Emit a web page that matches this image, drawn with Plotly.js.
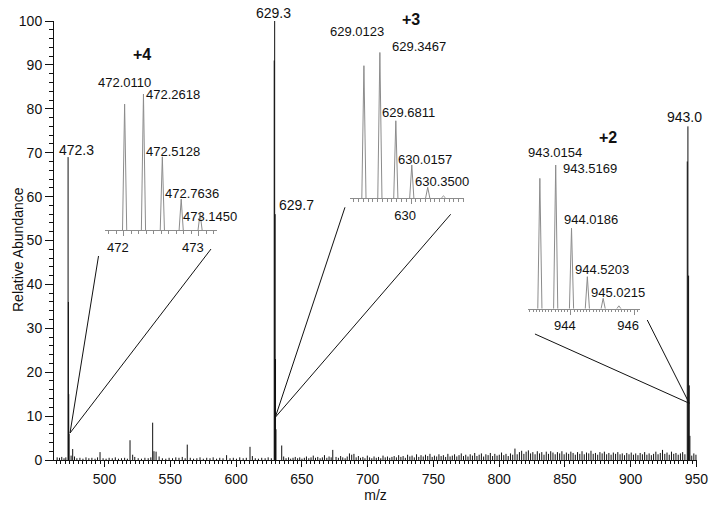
<!DOCTYPE html>
<html>
<head>
<meta charset="utf-8">
<script src="https://cdn.plot.ly/plotly-3.0.1.min.js"></script>
<style>
  html, body { margin: 0; padding: 0; background: #fff; }
  #chart { width: 720px; height: 510px; }
</style>
</head>
<body>
<div id="chart"></div>
<script>
// ESI mass spectrum, m/z 460–950, with zoomed isotope envelopes for the +4, +3, +2 ions

// ---- main spectrum: labelled ions and their isotopes, plus the small peaks
const mainMz  = [472.3, 472.55, 472.8, 473.05, 475.8, 519.4, 536.6, 537.6, 562.9, 610.6,
                 629.0, 629.35, 629.7, 630.0, 630.35, 634.7, 673.5,
                 943.0, 943.5, 944.0, 944.5, 945.0];
const mainInt = [69, 36, 15, 6, 2.5, 4.5, 8.5, 2.0, 3.5, 3.0,
                 91, 100, 56, 23, 7, 3.3, 2.3,
                 68, 76, 42, 17, 5.5];

// baseline chemical noise, [m/z, relative abundance]
const noise = [
  [464.0,0.6],[465.8,0.5],[467.5,0.7],[469.2,0.4],[470.6,0.6],[474.6,1.0],[477.2,0.8],[479.0,0.4],
  [481.3,0.5],[483.6,0.3],[485.9,0.6],[488.1,0.4],[490.4,0.5],[492.8,0.3],[494.7,0.6],[496.6,1.8],
  [498.9,0.4],[501.2,0.3],[503.5,0.5],[505.9,0.4],[508.2,0.6],[510.6,0.3],[512.9,0.4],[515.3,0.5],
  [517.4,0.3],[521.4,1.2],[523.0,0.7],[525.6,0.4],[528.1,0.3],[530.7,0.5],[533.2,0.4],[535.2,0.6],
  [539.2,1.9],[541.5,0.8],[544.0,0.4],[546.6,0.3],[549.1,0.5],[551.7,0.4],[554.2,0.6],[556.6,0.5],
  [559.1,0.7],[561.3,0.4],[565.2,0.5],[567.7,0.3],[570.2,0.4],[572.6,0.6],[575.1,0.3],[577.7,0.5],
  [580.2,0.4],[582.6,0.6],[585.2,0.3],[587.6,0.5],[590.1,0.4],[592.8,1.1],[595.4,0.4],[597.9,0.5],
  [600.3,0.3],[602.8,0.6],[605.4,0.4],[607.8,0.5],[612.4,0.9],[614.6,0.4],[617.0,0.3],[619.5,0.5],
  [622.1,0.4],[624.4,0.6],[626.8,0.4],
  [636.2,0.8],[638.0,0.4],[639.9,0.6],[641.5,0.3],[643.3,0.5],[645.0,0.7],[646.8,0.4],[648.4,0.6],
  [650.1,0.3],[651.9,0.5],[653.5,0.8],[655.3,0.4],[657.0,0.6],[658.7,1.0],[660.4,0.5],[662.1,0.7],
  [663.9,0.4],[665.6,0.6],[667.2,1.1],[669.0,0.5],[670.7,0.8],[672.3,0.6],[676.0,0.7],[677.8,0.5],
  [679.5,0.9],[681.1,0.6],[682.9,0.4],[684.5,0.8],[686.2,1.5],[687.9,1.2],[689.6,1.4],[691.3,0.6],
  [693.0,0.9],[694.6,0.5],[696.4,0.7],[698.0,0.4],[699.8,1.0],[701.5,0.6],[703.2,0.4],[704.9,0.8],
  [706.6,0.5],[708.3,0.7],[710.0,0.4],[711.7,1.0],[713.4,0.6],[715.1,0.8],[716.8,0.5],[718.5,0.7],
  [720.2,0.9],[721.9,0.6],[723.6,1.1],[725.3,0.7],[727.0,0.9],[728.7,0.5],[730.4,1.2],[732.1,0.8],
  [733.8,1.0],[735.5,0.6],[737.2,1.3],[738.9,0.7],[740.6,1.1],[742.3,0.8],[744.0,1.2],[745.7,0.9],
  [747.4,1.4],[749.1,0.7],[750.8,1.0],[752.5,0.8],[754.2,1.3],[755.9,0.9],[757.6,1.1],[759.3,0.7],
  [761.0,1.4],[762.7,0.8],[764.4,1.0],[766.1,1.3],[767.8,0.8],[769.5,1.1],[771.2,1.5],[772.9,0.9],
  [774.6,1.2],[776.3,0.8],[778.0,1.3],[779.7,1.0],[781.4,1.6],[783.1,0.9],[784.8,1.2],[786.5,1.5],
  [788.2,0.8],[789.9,1.3],[791.6,1.1],[793.3,1.6],[795.0,0.9],[796.7,1.4],[798.4,1.0],[800.1,1.2],
  [801.8,1.7],[803.5,1.1],[805.2,1.4],[806.9,0.9],[808.6,1.5],[810.3,1.2],[812.0,2.6],[813.7,1.3],
  [815.4,1.8],[817.1,2.1],[818.8,1.4],[820.5,1.9],[822.2,2.2],[823.9,1.5],[825.6,1.8],[827.3,1.3],
  [829.0,2.0],[830.7,1.5],[832.4,1.8],[834.1,1.2],[835.8,1.9],[837.5,1.4],[839.2,2.0],[840.9,1.7],
  [842.6,1.3],[844.3,1.8],[846.0,1.5],[847.7,2.0],[849.4,1.3],[851.1,1.7],[852.8,1.4],[854.5,1.9],
  [856.2,1.6],[857.9,1.2],[859.6,1.8],[861.3,1.4],[863.0,2.0],[864.7,1.3],[866.4,1.7],[868.1,1.5],
  [869.8,2.1],[871.5,1.4],[873.2,1.6],[874.9,1.2],[876.6,1.8],[878.3,1.5],[880.0,1.9],[881.7,1.3],
  [883.4,1.6],[885.1,1.2],[886.8,1.7],[888.5,1.4],[890.2,1.8],[891.9,1.3],[893.6,1.5],[895.3,1.1],
  [897.0,1.6],[898.7,1.3],[900.4,1.7],[902.1,1.2],[903.8,1.5],[905.5,1.1],[907.2,1.6],[908.9,1.3],
  [910.6,1.8],[912.3,1.2],[914.0,1.5],[915.7,1.1],[917.4,1.4],[919.1,1.9],[920.8,1.3],[922.5,1.6],
  [924.2,2.3],[925.9,1.4],[927.6,1.7],[929.3,1.2],[931.0,1.9],[932.7,1.4],[934.4,1.6],[936.1,1.2],
  [937.8,1.5],[939.5,1.8],[941.2,1.3],[946.4,1.0],[948.0,1.5],[949.6,1.2],
];

// labels on the main spectrum
const mainLabelText = ['472.3', '629.3', '629.7', '943.0'];
const mainLabelMz   = [472.3, 629.35, 629.7, 943.5];
const mainLabelInt  = [69, 100, 56, 76];

// zoom-in callout lines: from the peak foot up to the inset
const calloutFromMz  = [473.78, 473.78, 629.83, 629.83, 944.51, 944.51];
const calloutFromInt = [6.15, 6.15, 9.73, 9.73, 12.92, 12.92];
const calloutToMz    = [495.44, 580.95, 682.80, 763.15, 827.22, 912.59];
const calloutToInt   = [46.47, 48.06, 57.56, 55.97, 28.70, 31.89];

// isotope envelopes (inset intensities normalised to the tallest isotope)
const plus4Mz   = [472.011, 472.2618, 472.5128, 472.7636, 473.015];
const plus4Int  = [92.6, 100, 54, 23, 12.5];
const plus4Text = ['472.0110', '472.2618', '472.5128', '472.7636', '473.1450'];

const plus3Mz   = [629.0123, 629.3467, 629.6811, 630.0157, 630.35, 630.68];
const plus3Int  = [90.8, 100, 53, 22.6, 7.3, 1.4];
const plus3Text = ['629.0123', '629.3467', '629.6811', '630.0157', '630.3500'];

const plus2Mz   = [943.0154, 943.5169, 944.0186, 944.5203, 945.0215, 945.52];
const plus2Int  = [90.7, 100, 56, 22.3, 7.2, 2.0];
const plus2Text = ['943.0154', '943.5169', '944.0186', '944.5203', '945.0215'];

// ---------------------------------------------------------------------------
const FONT = 'Arial, "Liberation Sans", Helvetica, sans-serif';
const INK = '#111111', GREY = '#8c8c8c';

function sticks(mz, ys) {
  const x = [], y = [];
  mz.forEach((m, i) => { x.push(m, m, null); y.push(0, ys[i], null); });
  return { x, y };
}
function profile(mz, ys, hw) {   // narrow triangular profile peaks
  const x = [], y = [];
  mz.forEach((m, i) => { x.push(m - hw, m, m + hw, null); y.push(0, ys[i], 0, null); });
  return { x, y };
}

const insets = [
  { id: '2', mz: plus4Mz, int: plus4Int, text: plus4Text, charge: '+4', hw: 0.028,
    dx: [0.0793, 0.2535], dy: [0.5228, 0.8337], range: [471.75, 473.24], tickvals: [472, 473],
    off: [[0, 22], [30, 0], [11, 5], [11, 6], [10, -3]], chargeOff: [-1, 40] },
  { id: '3', mz: plus3Mz, int: plus3Int, text: plus3Text, charge: '+3', hw: 0.044,
    dx: [0.4603, 0.6376], dy: [0.5968, 0.9287], range: [628.72, 631.11], tickvals: [630],
    off: [[-6.5, 34], [39.5, 6], [13, 8], [13.5, 6], [14.5, 6]], chargeOff: [31, 33] },
  { id: '4', mz: plus2Mz, int: plus2Int, text: plus2Text, charge: '+2', hw: 0.066,
    dx: [0.7367, 0.9114], dy: [0.3446, 0.6720], range: [942.63, 946.19], tickvals: [944, 946],
    off: [[15.5, 26], [34.7, -4], [19, 9], [15, 7.4], [15, 5.6]], chargeOff: [52, 27] },
];

const traces = [];
const main = sticks(mainMz.concat(noise.map(p => p[0])), mainInt.concat(noise.map(p => p[1])));
traces.push({ x: main.x, y: main.y, mode: 'lines', line: { color: INK, width: 1 }, hoverinfo: 'skip' });

const cx = [], cy = [];
calloutFromMz.forEach((m, i) => {
  cx.push(m, calloutToMz[i], null); cy.push(calloutFromInt[i], calloutToInt[i], null);
});
traces.push({ x: cx, y: cy, mode: 'lines', line: { color: INK, width: 1 }, hoverinfo: 'skip' });

const annotations = [];
mainLabelText.forEach((t, i) => {
  const off = [[8, 7], [-1, 8.3], [21, 9], [-3, 9]][i];
  annotations.push({ x: mainLabelMz[i], y: mainLabelInt[i], xref: 'x', yref: 'y', text: t,
    showarrow: false, xanchor: 'center', yanchor: 'middle', xshift: off[0], yshift: off[1],
    font: { size: 14, color: INK } });
});
annotations.push({ x: -0.056, y: 0.4806, xref: 'paper', yref: 'paper', text: 'Relative Abundance',
  textangle: -90, showarrow: false, xanchor: 'center', yanchor: 'middle',
  font: { size: 14, color: INK } });

const layout = {
  width: 720, height: 510,
  margin: { l: 54, r: 23, t: 21, b: 50 },
  paper_bgcolor: '#ffffff', plot_bgcolor: 'rgba(0,0,0,0)',
  showlegend: false,
  font: { family: FONT, size: 14, color: INK },
  xaxis: {
    range: [461.6, 950.4], tick0: 0, dtick: 50, ticks: 'outside', ticklen: 6, tickcolor: INK,
    showline: true, linecolor: INK, linewidth: 1, showgrid: false, zeroline: false,
    tickfont: { size: 14, color: INK },
    minor: { tick0: 0, dtick: 10 / 3, ticks: 'outside', ticklen: 3, tickcolor: INK, showgrid: false },
    title: { text: 'm/z', standoff: 4, font: { size: 14, color: INK } },
  },
  yaxis: {
    range: [0, 100], dtick: 10, ticks: 'outside', ticklen: 8, tickcolor: INK,
    showline: true, linecolor: INK, linewidth: 1, showgrid: false, zeroline: false,
    tickfont: { size: 14, color: INK },
    minor: { dtick: 2, ticks: 'outside', ticklen: 4, tickcolor: INK, showgrid: false },
  },
  annotations,
};

insets.forEach(ins => {
  const p = profile(ins.mz, ins.int, ins.hw);
  traces.push({ x: p.x, y: p.y, xaxis: 'x' + ins.id, yaxis: 'y' + ins.id, mode: 'lines',
    line: { color: GREY, width: 1 }, hoverinfo: 'skip' });
  layout['xaxis' + ins.id] = {
    domain: ins.dx, anchor: 'y' + ins.id, range: ins.range,
    tickmode: 'array', tickvals: ins.tickvals, ticks: 'outside', ticklen: 5, tickcolor: GREY,
    ticklabelshift: -6,
    showline: true, linecolor: GREY, linewidth: 1, showgrid: false, zeroline: false,
    tickfont: { size: 13, color: INK },
    minor: { tick0: 0, dtick: 0.1, ticks: 'outside', ticklen: 2.5, tickcolor: GREY, showgrid: false },
  };
  layout['yaxis' + ins.id] = { domain: ins.dy, anchor: 'x' + ins.id, range: [0, 100], visible: false };
  ins.text.forEach((t, i) => {
    annotations.push({ x: ins.mz[i], y: ins.int[i], xref: 'x' + ins.id, yref: 'y' + ins.id, text: t,
      showarrow: false, xanchor: 'center', yanchor: 'middle', xshift: ins.off[i][0], yshift: ins.off[i][1],
      font: { size: 13, color: INK } });
  });
  const top = ins.int.indexOf(Math.max(...ins.int));
  annotations.push({ x: ins.mz[top], y: ins.int[top], xref: 'x' + ins.id, yref: 'y' + ins.id,
    text: '<b>' + ins.charge + '</b>', showarrow: false, xanchor: 'center', yanchor: 'middle',
    xshift: ins.chargeOff[0], yshift: ins.chargeOff[1], font: { size: 16, color: INK } });
});

Plotly.newPlot('chart', traces, layout, { staticPlot: true, displayModeBar: false });
</script>
</body>
</html>
